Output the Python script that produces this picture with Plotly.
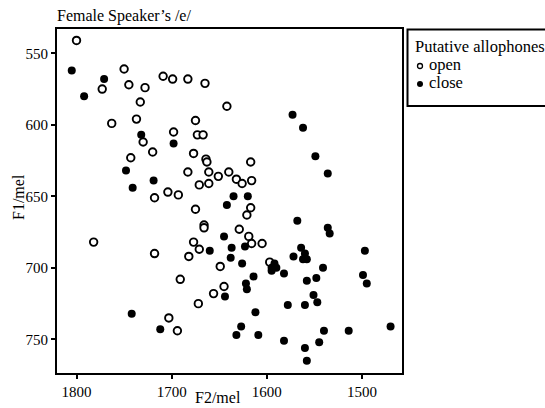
import plotly.graph_objects as go

# ---- data (F2, F1 in mel) ----
open_f2 = [1800, 1750, 1773, 1745, 1728, 1709, 1699, 1683, 1665, 1733, 1642, 1763, 1737, 1675,
           1698, 1673, 1667, 1730, 1720, 1677, 1743, 1664, 1663, 1617, 1683, 1661, 1651, 1640,
           1632, 1626, 1616, 1671, 1661, 1704, 1693, 1718, 1675, 1617, 1621, 1666, 1666, 1629,
           1782, 1677, 1619, 1616, 1605, 1671, 1718, 1682, 1597, 1649, 1691, 1645, 1656, 1672,
           1703, 1694]
open_f1 = [541, 561, 575, 572, 574, 566, 568, 568, 571, 584, 587, 599, 596, 597,
           605, 607, 607, 612, 619, 620, 623, 624, 626, 626, 633, 633, 636, 633,
           638, 641, 639, 642, 641, 647, 649, 651, 659, 658, 663, 670, 672, 673,
           682, 682, 678, 683, 683, 687, 690, 692, 696, 699, 708, 713, 718, 725,
           735, 744]

close_f2 = [1805, 1771, 1792, 1732, 1698, 1748, 1741, 1719, 1635, 1642, 1620, 1573, 1562, 1549,
            1536, 1568, 1536, 1534, 1645, 1637, 1623, 1660, 1638, 1564, 1572, 1562, 1558, 1560,
            1626, 1595, 1592, 1590, 1595, 1541, 1582, 1497, 1614, 1558, 1548, 1499, 1495, 1622,
            1621, 1644, 1551, 1547, 1578, 1560, 1612, 1742, 1712, 1627, 1632, 1609, 1582, 1540,
            1545, 1514, 1470, 1560, 1558]
close_f1 = [562, 568, 580, 607, 613, 632, 644, 639, 650, 656, 650, 593, 602, 622,
            634, 667, 672, 676, 678, 686, 685, 688, 693, 686, 692, 694, 694, 690,
            697, 700, 697, 700, 702, 700, 704, 688, 706, 709, 707, 705, 711, 711,
            715, 720, 719, 724, 726, 726, 731, 732, 743, 741, 747, 747, 751, 744,
            752, 744, 741, 756, 765]

series_names = ["open", "close"]
legend_title = "Putative allophones"
chart_title = "Female Speaker\u2019s /e/"
x_title = "F2/mel"
y_title = "F1/mel"
x_ticks = [1800, 1700, 1600, 1500]
y_ticks = [550, 600, 650, 700, 750]

FONT = "Liberation Serif"

fig = go.Figure()
fig.add_trace(go.Scatter(
    x=open_f2, y=open_f1, mode="markers", name=series_names[0], showlegend=False,
    marker=dict(symbol="circle", size=7.5, color="white", line=dict(color="black", width=1.9)),
))
fig.add_trace(go.Scatter(
    x=close_f2, y=close_f1, mode="markers", name=series_names[1], showlegend=False,
    marker=dict(symbol="circle", size=8, color="black", line=dict(width=0)),
))

axis_common = dict(
    showgrid=False, zeroline=False, showline=True, mirror=True,
    linecolor="black", linewidth=2, ticks="outside", ticklen=4, tickwidth=1.5,
    tickcolor="black", tickfont=dict(family=FONT, size=15, color="black"),
)
fig.update_xaxes(range=[1820.5, 1458], tickvals=x_ticks, **axis_common)
fig.update_yaxes(range=[773.5, 533], tickvals=y_ticks, **axis_common)

# plot area in pixels: x 57..402, y 29..373
L, R, T, B = 57, 143, 29, 35
W, H = 545, 408
pw, ph = W - L - R, H - T - B

def px(x):
    return (x - L) / pw

def py(y):
    return (H - B - y) / ph

annotations = [
    dict(text=chart_title, x=px(55), y=py(16), xanchor="left", yanchor="middle",
         font=dict(family=FONT, size=16, color="black")),
    dict(text=x_title, x=px(218), y=py(398), xanchor="center", yanchor="middle",
         font=dict(family=FONT, size=16, color="black")),
    dict(text=y_title, x=px(18), y=py(197), xanchor="center", yanchor="middle", textangle=-90,
         font=dict(family=FONT, size=16, color="black")),
    # manual legend texts
    dict(text=legend_title, x=px(413), y=py(46.5), xanchor="left", yanchor="middle",
         font=dict(family=FONT, size=16.5, color="black")),
    dict(text=series_names[0], x=px(427), y=py(65), xanchor="left", yanchor="middle",
         font=dict(family=FONT, size=16.5, color="black")),
    dict(text=series_names[1], x=px(427), y=py(83), xanchor="left", yanchor="middle",
         font=dict(family=FONT, size=16.5, color="black")),
]
for a in annotations:
    a.update(xref="paper", yref="paper", showarrow=False)

shapes = [
    dict(type="rect", xref="paper", yref="paper", x0=px(407.5), x1=px(600), y0=py(106), y1=py(29.5),
         line=dict(color="black", width=2), fillcolor="rgba(0,0,0,0)"),
    # legend symbols
    dict(type="circle", xref="paper", yref="paper", xsizemode="pixel", ysizemode="pixel",
         xanchor=px(420), yanchor=py(66), x0=-2.5, x1=2.5, y0=-2.5, y1=2.5,
         line=dict(color="black", width=1.3), fillcolor="white"),
    dict(type="circle", xref="paper", yref="paper", xsizemode="pixel", ysizemode="pixel",
         xanchor=px(420), yanchor=py(84), x0=-3, x1=3, y0=-3, y1=3,
         line=dict(color="black", width=0), fillcolor="black"),
]

fig.update_layout(
    width=W, height=H,
    margin=dict(l=L, r=R, t=T, b=B, pad=0, autoexpand=False),
    paper_bgcolor="white", plot_bgcolor="white",
    showlegend=False,
    annotations=annotations, shapes=shapes,
    font=dict(family=FONT, color="black"),
)

fig.write_html(
    "out.html",
    config={"displayModeBar": False},
    post_script="document.body.style.margin='0';document.body.style.padding='0';"
                "document.documentElement.style.overflow='hidden';",
)
